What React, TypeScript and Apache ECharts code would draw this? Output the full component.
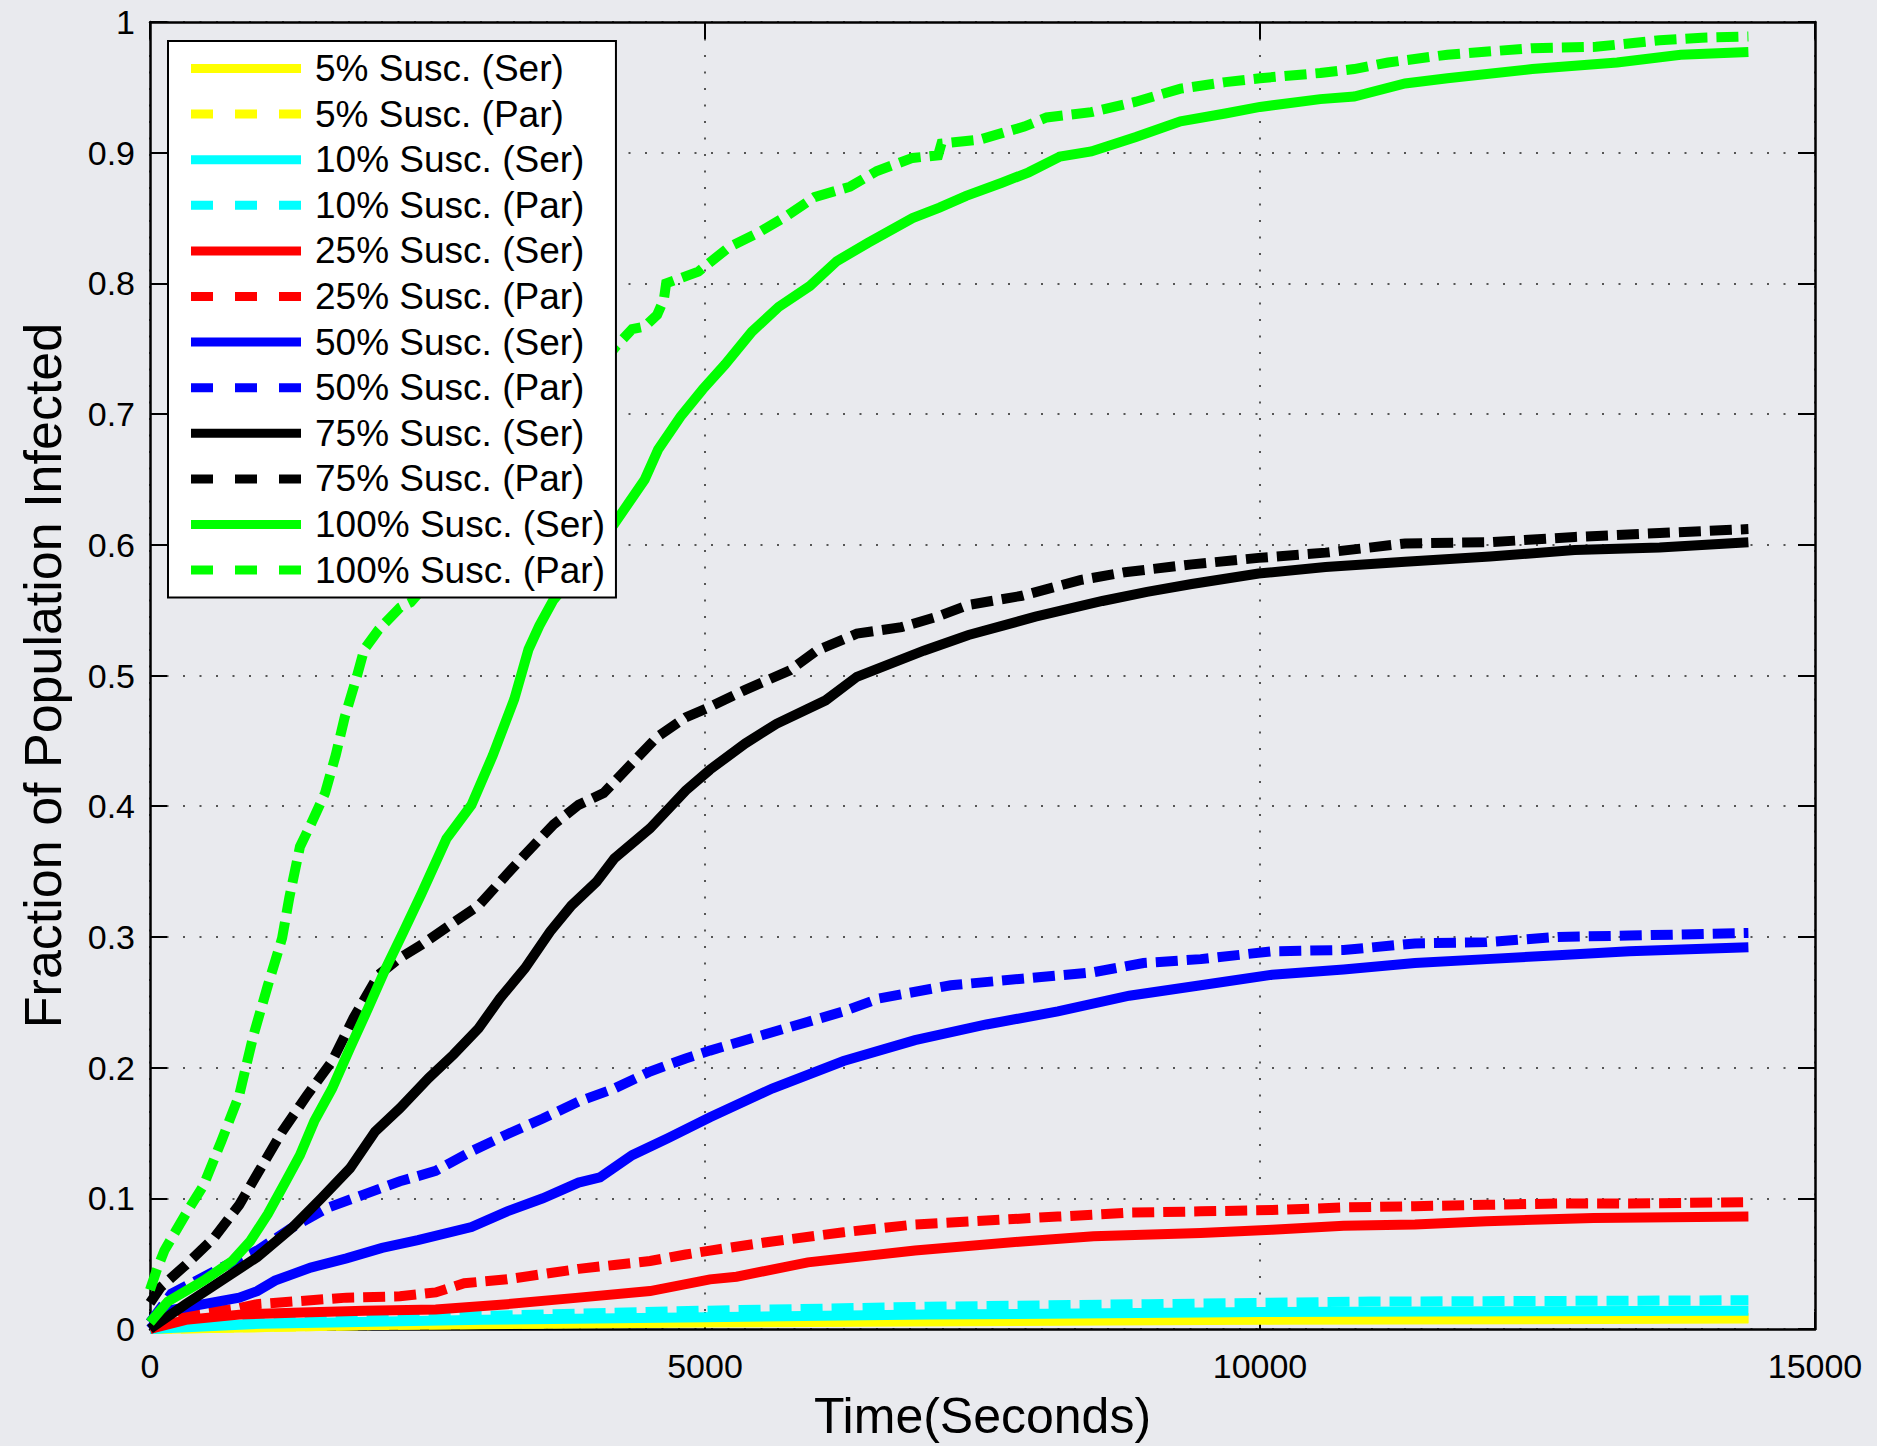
import React, { useEffect, useRef } from 'react';
import * as echarts from 'echarts';

// ---------- data ----------
const seriesNames: string[] = [
  '5% Susc. (Ser)', '5% Susc. (Par)',
  '10% Susc. (Ser)', '10% Susc. (Par)',
  '25% Susc. (Ser)', '25% Susc. (Par)',
  '50% Susc. (Ser)', '50% Susc. (Par)',
  '75% Susc. (Ser)', '75% Susc. (Par)',
  '100% Susc. (Ser)', '100% Susc. (Par)',
];
const seriesColors: string[] = [
  '#ffff00', '#ffff00', '#00ffff', '#00ffff', '#ff0000', '#ff0000',
  '#0000ff', '#0000ff', '#000000', '#000000', '#00ff00', '#00ff00',
];
const seriesDashed: boolean[] = [false, true, false, true, false, true, false, true, false, true, false, true];

const xTickValues: number[] = [0, 5000, 10000, 15000];
const yTickValues: number[] = [0, 0.1, 0.2, 0.3, 0.4, 0.5, 0.6, 0.7, 0.8, 0.9, 1];

const sus5Ser: [number, number][] = [[0, 0], [2000, 0.003], [5000, 0.005], [10000, 0.007], [14400, 0.008]];
const sus5Par: [number, number][] = [[0, 0], [2000, 0.003], [5000, 0.0055], [10000, 0.0075], [14400, 0.0085]];

const sus10Ser: [number, number][] = [[0, 0], [1000, 0.004], [3000, 0.007], [5000, 0.009], [7000, 0.011], [10000, 0.013], [14400, 0.014]];
const sus10Par: [number, number][] = [[0, 0], [1000, 0.006], [2500, 0.009], [4000, 0.012], [5000, 0.014], [7000, 0.017], [9000, 0.019], [11000, 0.021], [14400, 0.022]];

const sus25Ser: [number, number][] = [
  [0, 0], [322, 0.007], [804, 0.011], [1287, 0.0125], [1930, 0.014], [2574, 0.015], [3218, 0.019],
  [3861, 0.024], [4505, 0.029], [5045, 0.038], [5284, 0.04], [5927, 0.051], [6892, 0.06], [7857, 0.067],
  [8501, 0.071], [9466, 0.0735], [10109, 0.076], [10753, 0.079], [11396, 0.08], [12040, 0.0825],
  [13005, 0.085], [14400, 0.086],
];
const sus25Par: [number, number][] = [
  [0, 0], [322, 0.011], [804, 0.016], [965, 0.019], [1287, 0.021], [1770, 0.024], [2252, 0.025],
  [2574, 0.028], [2831, 0.035], [3218, 0.038], [3539, 0.042], [3861, 0.046], [4183, 0.049], [4505, 0.052],
  [4826, 0.057], [5045, 0.06], [5605, 0.067], [6248, 0.074], [6892, 0.08], [7535, 0.083], [8179, 0.086],
  [8822, 0.089], [9466, 0.09], [10109, 0.091], [10753, 0.093], [11396, 0.094], [12040, 0.095],
  [12683, 0.096], [13327, 0.096], [14400, 0.097],
];

const sus50Ser: [number, number][] = [
  [0, 0], [161, 0.014], [483, 0.019], [804, 0.024], [965, 0.029], [1126, 0.037], [1448, 0.047],
  [1770, 0.054], [2091, 0.062], [2413, 0.068], [2896, 0.078], [3218, 0.09], [3539, 0.1], [3861, 0.112],
  [4054, 0.116], [4344, 0.133], [4665, 0.146], [5045, 0.162], [5605, 0.184], [6248, 0.205], [6892, 0.221],
  [7535, 0.233], [8179, 0.243], [8822, 0.255], [9466, 0.263], [10109, 0.271], [10753, 0.275],
  [11396, 0.28], [12040, 0.283], [12683, 0.286], [13327, 0.289], [14400, 0.292],
];
const sus50Par: [number, number][] = [
  [0, 0.005], [193, 0.027], [644, 0.047], [965, 0.06], [1287, 0.078], [1609, 0.093], [1930, 0.103],
  [2252, 0.113], [2574, 0.121], [2896, 0.136], [3218, 0.149], [3539, 0.161], [3861, 0.174], [4183, 0.184],
  [4505, 0.197], [4826, 0.207], [5045, 0.213], [5605, 0.227], [6248, 0.243], [6570, 0.253], [7214, 0.263],
  [7857, 0.268], [8501, 0.273], [8951, 0.28], [9466, 0.283], [10109, 0.289], [10753, 0.29],
  [11396, 0.295], [12040, 0.296], [12683, 0.3], [13327, 0.301], [14400, 0.303],
];

const sus75Ser: [number, number][] = [
  [0, 0], [322, 0.019], [644, 0.037], [965, 0.055], [1287, 0.078], [1544, 0.1], [1802, 0.123],
  [2027, 0.151], [2252, 0.169], [2510, 0.192], [2735, 0.21], [2960, 0.23], [3153, 0.253], [3378, 0.276],
  [3604, 0.304], [3797, 0.324], [4022, 0.342], [4183, 0.36], [4505, 0.383], [4826, 0.412], [5045, 0.428],
  [5363, 0.448], [5644, 0.463], [6087, 0.481], [6368, 0.499], [6971, 0.519], [7374, 0.531],
  [7977, 0.545], [8580, 0.557], [8982, 0.564], [9385, 0.57], [9988, 0.578], [10591, 0.583],
  [11307, 0.587], [12071, 0.591], [12835, 0.596], [13600, 0.598], [14400, 0.602],
];
const sus75Par: [number, number][] = [
  [0, 0.02], [97, 0.032], [322, 0.049], [579, 0.07], [804, 0.095], [997, 0.123], [1190, 0.151],
  [1416, 0.179], [1641, 0.205], [1834, 0.238], [2059, 0.271], [2252, 0.284], [2445, 0.294],
  [2735, 0.311], [2960, 0.324], [3153, 0.342], [3378, 0.363], [3636, 0.386], [3861, 0.401],
  [4086, 0.41], [4344, 0.433], [4569, 0.453], [4826, 0.468], [5019, 0.475], [5363, 0.489],
  [5765, 0.504], [6006, 0.519], [6368, 0.532], [6770, 0.537], [7092, 0.545], [7374, 0.554],
  [7856, 0.561], [8379, 0.573], [8781, 0.579], [9385, 0.585], [9988, 0.59], [10591, 0.594],
  [11307, 0.601], [12071, 0.602], [12835, 0.606], [13600, 0.609], [14400, 0.612],
];

const sus100Ser: [number, number][] = [
  [0, 0.005], [161, 0.021], [483, 0.037], [740, 0.052], [901, 0.067], [1062, 0.088], [1223, 0.113],
  [1351, 0.133], [1480, 0.159], [1641, 0.184], [1802, 0.215], [1963, 0.245], [2124, 0.276],
  [2284, 0.304], [2445, 0.333], [2670, 0.375], [2896, 0.401], [3089, 0.439], [3282, 0.482],
  [3410, 0.52], [3507, 0.538], [3636, 0.558], [3900, 0.585], [4183, 0.616], [4457, 0.65], [4578, 0.673],
  [4779, 0.698], [4980, 0.719], [5181, 0.738], [5422, 0.763], [5664, 0.782], [5945, 0.798],
  [6187, 0.817], [6468, 0.831], [6870, 0.85], [7112, 0.858], [7353, 0.867], [7675, 0.877],
  [7916, 0.885], [8198, 0.897], [8480, 0.901], [8882, 0.912], [9284, 0.924], [9687, 0.93],
  [10000, 0.935], [10543, 0.941], [10848, 0.943], [11307, 0.953], [11689, 0.957], [12453, 0.964],
  [13217, 0.969], [13790, 0.975], [14400, 0.977],
];
const sus100Par: [number, number][] = [
  [0, 0.03], [60, 0.045], [129, 0.06], [322, 0.088], [483, 0.11], [644, 0.144], [804, 0.179],
  [933, 0.225], [1062, 0.263], [1190, 0.299], [1255, 0.33], [1351, 0.369], [1448, 0.386],
  [1577, 0.41], [1673, 0.439], [1754, 0.468], [1866, 0.5], [1930, 0.52], [2059, 0.535],
  [2252, 0.552], [2349, 0.556], [2800, 0.6], [3300, 0.65], [3800, 0.71], [4200, 0.752],
  [4344, 0.765], [4457, 0.767], [4569, 0.776], [4630, 0.788], [4650, 0.8], [4940, 0.809],
  [5221, 0.828], [5463, 0.838], [5744, 0.852], [5986, 0.866], [6307, 0.874], [6549, 0.886],
  [6870, 0.896], [7100, 0.898], [7130, 0.907], [7474, 0.91], [7876, 0.92], [8077, 0.927],
  [8480, 0.931], [8882, 0.939], [9284, 0.949], [9687, 0.954], [10000, 0.957], [10543, 0.961],
  [10848, 0.964], [11154, 0.969], [11689, 0.975], [12453, 0.98], [13026, 0.981], [13600, 0.986],
  [13981, 0.988], [14400, 0.989],
];

const seriesData: [number, number][][] = [
  sus5Ser, sus5Par, sus10Ser, sus10Par, sus25Ser, sus25Par,
  sus50Ser, sus50Par, sus75Ser, sus75Par, sus100Ser, sus100Par,
];

const xAxisTitle = 'Time(Seconds)';
const yAxisTitle = 'Fraction of Population Infected';

// ---------- chart ----------
const FONT = '"Liberation Sans", Arial, Helvetica, sans-serif';
const BG = '#e9eaee';
const ICON_SOLID = 'path://M0,0L110,0L110,9L0,9Z';
const ICON_DASHED = 'path://M0,0L22,0L22,9L0,9Z M44,0L66,0L66,9L44,9Z M88,0L110,0L110,9L88,9Z';

export default function App() {
  const ref = useRef<HTMLDivElement>(null);

  useEffect(() => {
    document.body.style.margin = '0';
    document.body.style.background = BG;
    if (!ref.current) return;
    const chart = echarts.init(ref.current, undefined, { renderer: 'svg' });

    const gridLine = { show: true, lineStyle: { color: '#555', width: 2, type: [2, 14.5] as any } };
    const frameLine = { show: true, onZero: false, lineStyle: { color: '#000', width: 2.5 } };
    const inTick = { show: true, inside: true, length: 17, lineStyle: { color: '#000', width: 2 } };

    const option: any = {
      animation: false,
      backgroundColor: BG,
      textStyle: { fontFamily: FONT },
      grid: { left: 150, top: 22, width: 1665, height: 1314, containLabel: false },
      legend: {
        show: true,
        orient: 'vertical',
        left: 168,
        top: 41,
        padding: [9, 11, 9, 23],
        backgroundColor: '#ffffff',
        borderColor: '#000000',
        borderWidth: 2,
        borderRadius: 0,
        itemWidth: 110,
        itemHeight: 9,
        itemGap: 8.6,
        symbolKeepAspect: false,
        textStyle: { fontSize: 37, lineHeight: 37, color: '#000', fontFamily: FONT, padding: [0, 0, 0, 9] },
        data: seriesNames.map((n, i) => ({
          name: n,
          icon: seriesDashed[i] ? ICON_DASHED : ICON_SOLID,
          itemStyle: { color: seriesColors[i], borderWidth: 0, opacity: 1 },
        })),
        selectedMode: false,
      },
      xAxis: [
        {
          type: 'value',
          min: xTickValues[0],
          max: xTickValues[xTickValues.length - 1],
          interval: 5000,
          position: 'bottom',
          axisLine: frameLine,
          axisTick: inTick,
          splitLine: gridLine,
          axisLabel: {
            show: true,
            margin: 20,
            fontSize: 34,
            color: '#000',
            fontFamily: FONT,
            formatter: (v: number) => String(v),
          },
          name: xAxisTitle,
          nameLocation: 'middle',
          nameGap: 62,
          nameTextStyle: { fontSize: 50, color: '#000', fontFamily: FONT },
        },
        {
          type: 'value',
          min: xTickValues[0],
          max: xTickValues[xTickValues.length - 1],
          interval: 5000,
          position: 'top',
          axisLine: frameLine,
          axisTick: inTick,
          splitLine: { show: false },
          axisLabel: { show: false },
        },
      ],
      yAxis: [
        {
          type: 'value',
          min: yTickValues[0],
          max: yTickValues[yTickValues.length - 1],
          interval: 0.1,
          position: 'left',
          axisLine: frameLine,
          axisTick: inTick,
          splitLine: gridLine,
          axisLabel: { show: true, margin: 15, fontSize: 34, color: '#000', fontFamily: FONT },
          name: yAxisTitle,
          nameLocation: 'middle',
          nameGap: 81,
          nameRotate: 90,
          nameTextStyle: { fontSize: 52, color: '#000', fontFamily: FONT },
        },
        {
          type: 'value',
          min: yTickValues[0],
          max: yTickValues[yTickValues.length - 1],
          interval: 0.1,
          position: 'right',
          axisLine: frameLine,
          axisTick: inTick,
          splitLine: { show: false },
          axisLabel: { show: false },
        },
      ],
      series: seriesNames.map((n, i) => ({
        name: n,
        type: 'line',
        xAxisIndex: 0,
        yAxisIndex: 0,
        data: seriesData[i],
        symbol: 'none',
        showSymbol: false,
        smooth: false,
        z: 2 + i * 0.01,
        lineStyle: {
          color: seriesColors[i],
          width: 10,
          type: seriesDashed[i] ? [22, 9] : 'solid',
          cap: 'butt',
          join: 'miter',
        },
        itemStyle: { color: seriesColors[i] },
        emphasis: { disabled: true },
      })),
    };

    chart.setOption(option);
    return () => {
      chart.dispose();
    };
  }, []);

  return (
    <div
      ref={ref}
      style={{ position: 'fixed', left: 0, top: 0, width: 1877, height: 1446, background: BG }}
    />
  );
}
